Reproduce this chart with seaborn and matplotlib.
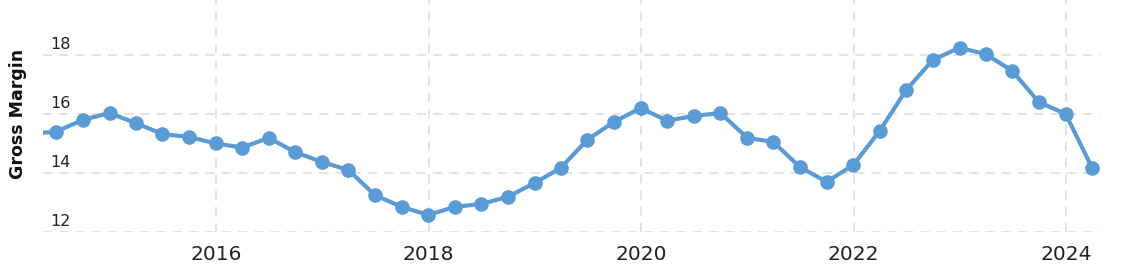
import matplotlib
matplotlib.use("Agg")
import matplotlib.pyplot as plt
import seaborn as sns
import pandas as pd

quarters = [
    "2014-03-31", "2014-06-30", "2014-09-30", "2014-12-31",
    "2015-03-31", "2015-06-30", "2015-09-30", "2015-12-31",
    "2016-03-31", "2016-06-30", "2016-09-30", "2016-12-31",
    "2017-03-31", "2017-06-30", "2017-09-30", "2017-12-31",
    "2018-03-31", "2018-06-30", "2018-09-30", "2018-12-31",
    "2019-03-31", "2019-06-30", "2019-09-30", "2019-12-31",
    "2020-03-31", "2020-06-30", "2020-09-30", "2020-12-31",
    "2021-03-31", "2021-06-30", "2021-09-30", "2021-12-31",
    "2022-03-31", "2022-06-30", "2022-09-30", "2022-12-31",
    "2023-03-31", "2023-06-30", "2023-09-30", "2023-12-31",
    "2024-03-31",
]
gross_margin = [
    15.33, 15.40, 15.80, 16.03,
    15.69, 15.32, 15.22, 15.00,
    14.86, 15.19, 14.70, 14.37,
    14.10, 13.25, 12.85, 12.58,
    12.85, 12.95, 13.19, 13.66,
    14.17, 15.12, 15.73, 16.20,
    15.77, 15.93, 16.03, 15.19,
    15.05, 14.20, 13.70, 14.27,
    15.42, 16.80, 17.83, 18.24,
    18.03, 17.46, 16.40, 16.00,
    14.17,
]
y_ticks = [12, 14, 16, 18]
x_tick_years = ["2016", "2018", "2020", "2022", "2024"]
y_label = "Gross Margin"

df = pd.DataFrame({"date": pd.to_datetime(quarters), "value": gross_margin})

sns.set_theme(style="white")
plt.rcParams["font.family"] = ["DejaVu Sans"]

color = "#5b9bd5"
fig = plt.figure(figsize=(11.40, 2.71), dpi=100)
ax = fig.add_axes([43 / 1140, 39 / 271, 1057 / 1140, 232 / 271])

sns.lineplot(data=df, x="date", y="value", ax=ax, color=color, linewidth=3,
             marker="o", markersize=10.5, markeredgewidth=0, markeredgecolor=color)

ax.set_xlim(pd.Timestamp("2014-05-16"), pd.Timestamp("2024-04-27"))
ax.set_ylim(12, 19.86)

xt = [pd.Timestamp(f"{y}-01-01") for y in x_tick_years]
ax.set_xticks(xt)
ax.set_xticklabels(x_tick_years, fontsize=14.5, color="#222222")
ax.set_yticks(y_ticks)
ax.set_yticklabels([])
ax.tick_params(axis="x", length=0, pad=9)
ax.tick_params(axis="y", length=0, pad=0)

ax.grid(True, color="#e0e0e0", linestyle=(0, (5, 4)), linewidth=1.3)
for s in ax.spines.values():
    s.set_visible(False)

for v in y_ticks:
    ax.text(0.0066, v + 0.1, str(v), transform=ax.get_yaxis_transform(),
            ha="left", va="bottom", fontsize=11.5, color="#222222")

ax.set_xlabel("")
ax.set_ylabel("")
fig.text(18 / 1140, 1 - 114 / 271, y_label, rotation=90, ha="center", va="center",
         fontsize=12.5, fontweight="bold", color="#111111")

fig.savefig("out.png", dpi=100)
